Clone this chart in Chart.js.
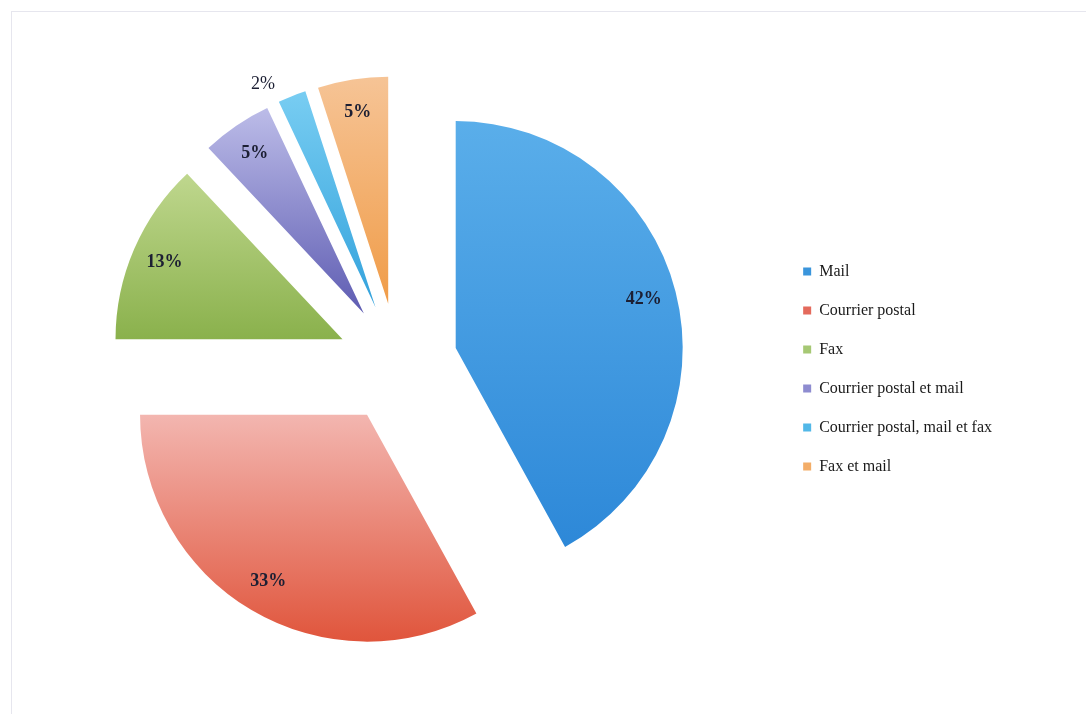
<!DOCTYPE html>
<html>
<head>
<meta charset="utf-8">
<title>Moyens de communication</title>
<script src="https://cdn.jsdelivr.net/npm/chart.js@4.4.1/dist/chart.umd.min.js"></script>
<style>
  html, body { margin: 0; padding: 0; background: #ffffff; }
  #wrap { position: relative; width: 1086px; height: 714px; }
  #frame { position: absolute; left: 11px; top: 11px; right: 0; bottom: 0;
           border-top: 1px solid #e6e6ee; border-left: 1px solid #e6e6ee; }
  canvas { position: absolute; left: 0; top: 0; }
</style>
</head>
<body>
<div id="wrap">
  <div id="frame"></div>
  <canvas id="pieChart" width="1086" height="714"></canvas>
</div>
<script>
// Chart data
var labels = ['Mail', 'Courrier postal', 'Fax', 'Courrier postal et mail', 'Courrier postal, mail et fax', 'Fax et mail'];
var values = [42, 33, 13, 5, 2, 5];

// Slice colours: light (top) and dark (bottom) of each gradient, plus legend swatch
var lightColors = ['#5aaeea', '#f3b6b0', '#bfd78e', '#bcbce8', '#78cdf2', '#f6c496'];
var darkColors = ['#2d88d8', '#e0553c', '#8ab14c', '#5e5cb2', '#33a2dc', '#f09c48'];
var swatchColors = ['#3a95dc', '#e46a5c', '#a6c874', '#8e8cd0', '#52b8e8', '#f3ad68'];

var RADIUS = 227;     // radius of every slice
var EXPLODE = 60;     // distance every slice is pulled out from the centre

// Pull each slice out along its middle angle (same distance for all, no resizing)
var explodePlugin = {
  id: 'explode',
  afterDatasetUpdate: function (chart, args) {
    args.meta.data.forEach(function (arc) {
      var mid = (arc.startAngle + arc.endAngle) / 2;
      arc.x += Math.cos(mid) * EXPLODE;
      arc.y += Math.sin(mid) * EXPLODE;
    });
  }
};

// Paints every slice with a vertical gradient spanning its own height
var gradientPlugin = {
  id: 'sliceGradient',
  beforeDatasetsDraw: function (chart) {
    var ctx = chart.ctx;
    var meta = chart.getDatasetMeta(0);
    meta.data.forEach(function (arc, i) {
      var top = arc.y, bottom = arc.y;
      for (var k = 0; k <= 40; k++) {
        var a = arc.startAngle + (arc.endAngle - arc.startAngle) * k / 40;
        var yy = arc.y + Math.sin(a) * arc.outerRadius;
        top = Math.min(top, yy);
        bottom = Math.max(bottom, yy);
      }
      var g = ctx.createLinearGradient(0, top, 0, bottom);
      g.addColorStop(0, lightColors[i]);
      g.addColorStop(1, darkColors[i]);
      arc.options.backgroundColor = g;
    });
  }
};

// Writes the percentage of each slice, outside for very thin slices
var percentPlugin = {
  id: 'percentLabels',
  afterDatasetsDraw: function (chart) {
    var ctx = chart.ctx;
    var meta = chart.getDatasetMeta(0);
    ctx.save();
    ctx.fillStyle = '#1c1f33';
    ctx.textAlign = 'center';
    ctx.textBaseline = 'middle';
    meta.data.forEach(function (arc, i) {
      var mid = (arc.startAngle + arc.endAngle) / 2;
      var thin = values[i] < 3;
      var r = arc.outerRadius * (thin ? 1.1 : 0.855);
      var a = thin ? mid - 0.09 : mid;
      ctx.font = (thin ? '' : 'bold ') + '18px "Liberation Serif", "DejaVu Serif", serif';
      ctx.fillText(values[i] + '%', arc.x + Math.cos(a) * r, arc.y + Math.sin(a) * r);
    });
    ctx.restore();
  }
};

var ctx = document.getElementById('pieChart').getContext('2d');

var chartInstance = new Chart(ctx, {
  type: 'pie',
  data: {
    labels: labels,
    datasets: [{
      data: values,
      backgroundColor: swatchColors,
      borderWidth: 0,
      radius: RADIUS
    }]
  },
  options: {
    responsive: false,
    animation: false,
    layout: {
      padding: { left: 15, right: 84, top: 22, bottom: 10 }
    },
    plugins: {
      legend: {
        position: 'right',
        title: { display: true, text: ' ', padding: 0, font: { size: 10 } },
        labels: {
          boxWidth: 8,
          boxHeight: 8,
          padding: 23,
          color: '#1a1a1a',
          font: { family: '"Liberation Serif", "DejaVu Serif", serif', size: 16 }
        }
      },
      tooltip: { enabled: false }
    }
  },
  plugins: [explodePlugin, gradientPlugin, percentPlugin]
});
</script>
</body>
</html>
